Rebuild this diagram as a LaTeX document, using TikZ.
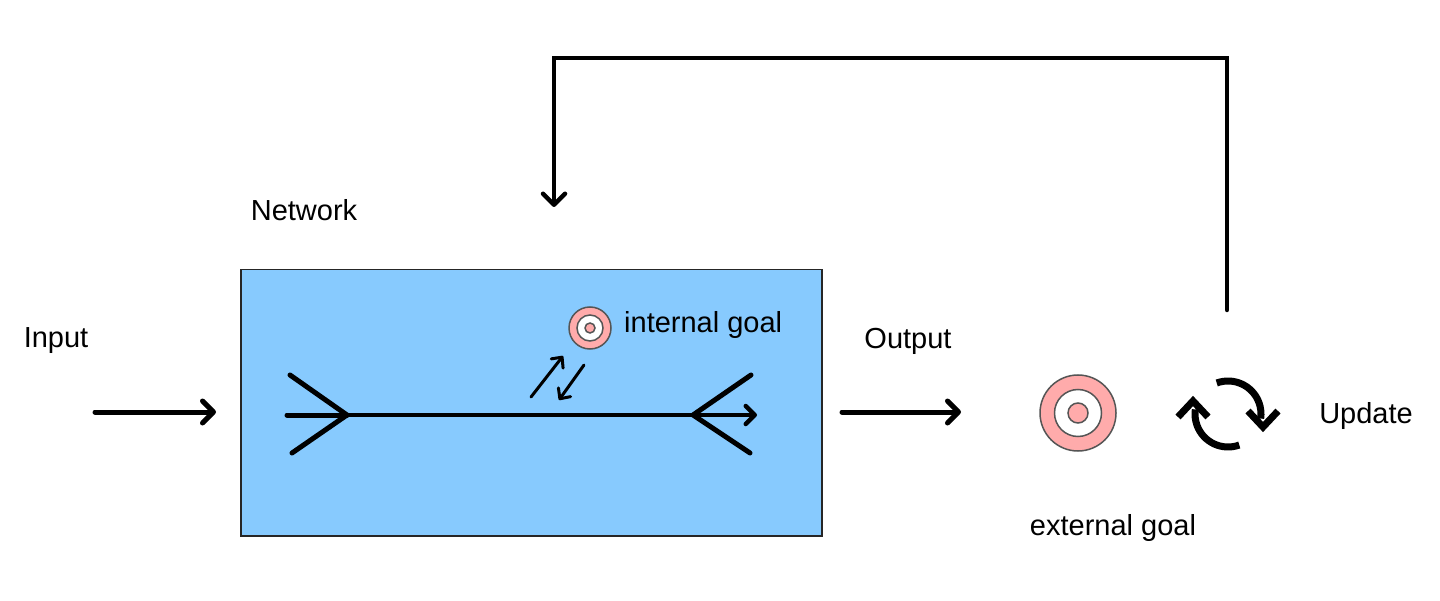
\documentclass[tikz,border=0pt]{standalone}
\usepackage{fontspec}
\setmainfont{Liberation Sans}
\usetikzlibrary{arrows.meta}
\definecolor{netblue}{HTML}{87CAFE}
\definecolor{goalpink}{HTML}{FFABAB}
\definecolor{goalrim}{HTML}{555555}
\tikzset{
  lbl/.style={font=\fontsize{29}{35}\selectfont, inner sep=0pt},
  flow/.style={line width=5pt, line cap=round, -{Straight Barb[length=11pt,width=22pt,round]}},
  thin flow/.style={line width=3pt, line cap=round, -{Straight Barb[length=8pt,width=15pt,round]}},
  arm/.style={line width=5pt, line cap=round},
  ring/.style={draw=goalrim, line width=1.5pt},
  feedback/.style={line width=4.5pt, line cap=round, line join=miter, -{Straight Barb[length=11pt,width=22pt,round]}},
}
\begin{document}
\begin{tikzpicture}[x=1pt,y=-1pt]
\useasboundingbox (0,0) rectangle (1440,601);
% network box
\node[draw=black!85, line width=1.5pt, fill=netblue, minimum width=581pt, minimum height=266pt, inner sep=0pt, anchor=north west] (net) at (240,269) {};
\node[lbl] (netlbl) at (304,210) {Network};
% labels
\node[lbl] (inlbl) at (56,341) {Input};
\node[lbl] (outlbl) at (908,341) {Output};
\node[lbl, anchor=west] (intlbl) at (624,325) {internal goal};
\node[lbl] (updlbl) at (1366,416) {Update};
\node[lbl] (extlbl) at (1113,528) {external goal};
% coordinates
\coordinate (inA) at (95,412);
\coordinate (inB) at (216,412);
\coordinate (outA) at (842,412);
\coordinate (outB) at (961,412);
\coordinate (stub) at (287,415);
\coordinate (ltip) at (347,415);
\coordinate (lup) at (290,375);
\coordinate (ldn) at (292,453);
\coordinate (rtip) at (693,415);
\coordinate (rup) at (751,375);
\coordinate (rdn) at (750,453);
\coordinate (rend) at (757,415);
\coordinate (fbA) at (1227,310);
\coordinate (fbB) at (1227,58);
\coordinate (fbC) at (554,58);
\coordinate (fbD) at (554,207);
\coordinate (suA) at (531,397);
\coordinate (suB) at (563,356);
\coordinate (sdA) at (584,365);
\coordinate (sdB) at (559,400);
% goals
\node[ring, circle, fill=goalpink, minimum size=42pt, inner sep=0pt] (igoal) at (590,328) {};
\node[ring, circle, fill=white, minimum size=26pt, inner sep=0pt] (igoalm) at (590,328) {};
\node[ring, circle, fill=goalpink, minimum size=10pt, inner sep=0pt] (igoali) at (590,328) {};
\node[ring, circle, fill=goalpink, minimum size=76pt, inner sep=0pt] (egoal) at (1078,413) {};
\node[ring, circle, fill=white, minimum size=47pt, inner sep=0pt] (egoalm) at (1078,413) {};
\node[ring, circle, fill=goalpink, minimum size=20pt, inner sep=0pt] (egoali) at (1078,413) {};
% arrows
\draw[flow] (inA) -- (inB);
\draw[flow] (outA) -- (outB);
\draw[arm] (lup) -- (ltip) -- (ldn);
\draw[arm] (rup) -- (rtip) -- (rdn);
\draw[arm] (stub) -- (ltip);
\draw[line width=4.5pt, line cap=round, -{Straight Barb[length=9pt,width=18pt,round]}] (ltip) -- (rend);
\draw[thin flow] (suA) -- (suB);
\draw[thin flow] (sdA) -- (sdB);
\draw[feedback] (fbA) -- (fbB) -- (fbC) -- (fbD);
% update icon
\begin{scope}[shift={(1228,414)}, yscale=-1, line width=7pt]
  \draw (110:33) arc[start angle=110, end angle=-8, radius=33];
  \draw[line join=miter] (20,3) -- (35,-13) -- (50,3);
  \draw (-70:33) arc[start angle=-70, end angle=-188, radius=33];
  \draw[line join=miter] (-20,-3) -- (-35,13) -- (-50,-3);
\end{scope}
\end{tikzpicture}
\end{document}
